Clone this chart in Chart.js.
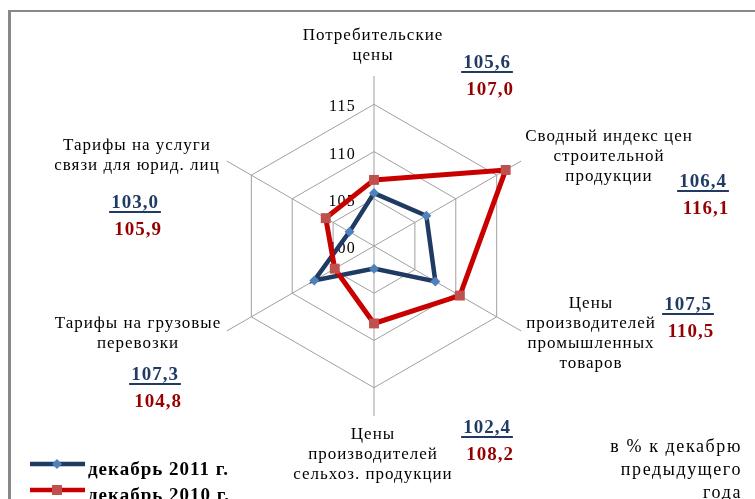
<!DOCTYPE html>
<html>
<head>
<meta charset="utf-8">
<script src="https://cdn.jsdelivr.net/npm/chart.js@4.4.1/dist/chart.umd.min.js"></script>
<style>
  html, body { margin: 0; padding: 0; background: #fff; overflow: hidden; }
  #wrap { position: relative; width: 755px; height: 499px; }
</style>
</head>
<body>
<div id="wrap"><canvas id="chart" width="755" height="499"></canvas></div>
<script>
// categories (clockwise from top)
const categories = [
    ['Потребительские', 'цены'],
    ['Сводный индекс цен', 'строительной', 'продукции'],
    ['Цены', 'производителей', 'промышленных', 'товаров'],
    ['Цены', 'производителей', 'сельхоз. продукции'],
    ['Тарифы на грузовые', 'перевозки'],
    ['Тарифы на услуги', 'связи для юрид. лиц']
];
const dec2011 = [105.6, 106.4, 107.5, 102.4, 107.3, 103.0];
const dec2010 = [107.0, 116.1, 110.5, 108.2, 104.8, 105.9];
const tickValues = [100, 105, 110, 115];
const seriesNames = ['декабрь 2011 г.', 'декабрь 2010 г.'];
const unitNote = ['в % к декабрю', 'предыдущего', 'года'];

const NAVY = '#1F3A63';
const BLUE_PT = '#4F81BD';
const RED = '#C80000';
const RED_PT = '#C0504D';
const DARK_RED = '#960000';
const SERIF = '"Liberation Serif", "Times New Roman", serif';

// where the text boxes sit: [cx, first baseline] for names, [cx, baseline top value] for figures
const nameBoxes = [[373, 40], [609, 141], [591, 308], [373, 439], [138, 328], [137, 150]];
const valueBoxes = [[487, 68], [703, 187], [688, 310], [487, 433], [155, 380], [135, 208]];

function fmt(v) { return v.toFixed(1).replace('.', ','); }

function txt(ctx, s, x, y, font, color, align, spacing) {
    ctx.font = font;
    ctx.fillStyle = color;
    ctx.letterSpacing = spacing || '0px';
    ctx.textAlign = align || 'center';
    ctx.textBaseline = 'alphabetic';
    ctx.fillText(s, x, y);
    return ctx.measureText(s).width;
}

const decorPlugin = {
    id: 'decor',
    beforeDraw(chart) {
        const ctx = chart.ctx;
        ctx.save();
        ctx.fillStyle = '#888888';
        ctx.fillRect(8, 10, 755, 2);
        ctx.fillRect(8, 10, 3, 499);
        ctx.restore();
    },
    beforeDatasetsDraw(chart) {
        const ctx = chart.ctx;
        const r = chart.scales.r;
        ctx.save();
        tickValues.forEach(v => {
            const y = r.yCenter - r.getDistanceFromCenterForValue(v) + 7;
            txt(ctx, String(v), r.xCenter - 18, y, '16px ' + SERIF, '#000', 'right', '1.2px');
        });
        ctx.restore();
    },
    afterDraw(chart) {
        const ctx = chart.ctx;
        ctx.save();
        // category names
        categories.forEach((lines, i) => {
            const [cx, by] = nameBoxes[i];
            lines.forEach((ln, k) => txt(ctx, ln, cx, by + k * 20, '17px ' + SERIF, '#000', 'center', '1px'));
        });
        // figures: 2011 over 2010
        valueBoxes.forEach(([cx, by], i) => {
            const w = txt(ctx, fmt(dec2011[i]), cx, by, 'bold 19px ' + SERIF, NAVY, 'center', '1px');
            ctx.fillStyle = NAVY;
            ctx.fillRect(cx - w / 2 - 2, by + 3, w + 4, 2);
            txt(ctx, fmt(dec2010[i]), cx + 3, by + 27, 'bold 19px ' + SERIF, DARK_RED, 'center', '1px');
        });
        // unit note
        unitNote.forEach((ln, k) => txt(ctx, ln, 742, 452 + k * 23, '18px ' + SERIF, '#000', 'right', '1.6px'));
        // legend
        const ds = chart.data.datasets;
        [464, 490].forEach((y, i) => {
            ctx.strokeStyle = ds[i].borderColor;
            ctx.lineWidth = 4.5;
            ctx.beginPath();
            ctx.moveTo(30, y);
            ctx.lineTo(85, y);
            ctx.stroke();
            ctx.fillStyle = ds[i].pointBackgroundColor;
            if (i === 0) {
                ctx.beginPath();
                ctx.moveTo(57, y - 5); ctx.lineTo(62, y); ctx.lineTo(57, y + 5); ctx.lineTo(52, y);
                ctx.closePath();
                ctx.fill();
            } else {
                ctx.fillRect(52, y - 5, 10, 10);
            }
            txt(ctx, seriesNames[i], 88, y + 11, 'bold 19px ' + SERIF, '#000', 'left', '1px');
        });
        ctx.restore();
    }
};

new Chart(document.getElementById('chart'), {
    type: 'radar',
    data: {
        labels: categories,
        datasets: [
            {
                label: seriesNames[0], data: dec2011, order: 1,
                borderColor: NAVY, borderWidth: 4.5, fill: false, tension: 0,
                pointStyle: 'rectRot', pointRadius: 5, pointBorderWidth: 0,
                pointBackgroundColor: BLUE_PT, pointBorderColor: BLUE_PT
            },
            {
                label: seriesNames[1], data: dec2010, order: 0,
                borderColor: RED, borderWidth: 5, fill: false, tension: 0,
                pointStyle: 'rect', pointRadius: 7, pointBorderWidth: 0,
                pointBackgroundColor: RED_PT, pointBorderColor: RED_PT
            }
        ]
    },
    options: {
        responsive: false,
        animation: false,
        layout: { padding: { top: 76, bottom: 82, left: 100, right: 107 } },
        plugins: { legend: { display: false }, tooltip: { enabled: false } },
        scales: {
            r: {
                min: 100, max: 118,
                afterBuildTicks: s => { s.ticks = tickValues.map(v => ({ value: v })); },
                ticks: { display: false },
                pointLabels: { display: false },
                grid: { color: '#A0A0A0', lineWidth: 1 },
                angleLines: { color: '#A0A0A0', lineWidth: 1 }
            }
        }
    },
    plugins: [decorPlugin]
});
</script>
</body>
</html>
